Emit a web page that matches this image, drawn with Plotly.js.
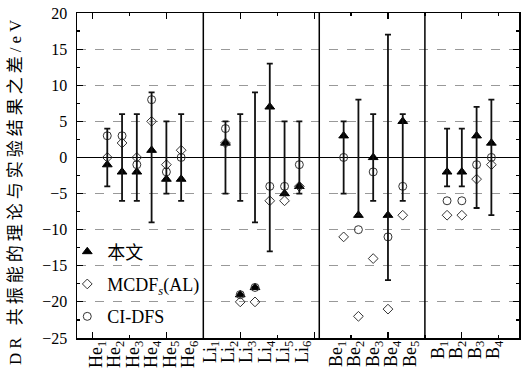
<!DOCTYPE html>
<html>
<head>
<meta charset="utf-8">
<script src="https://cdn.plot.ly/plotly-3.0.1.min.js"></script>
<style>
  html, body { margin: 0; padding: 0; background: #fff; }
  #chart { width: 521px; height: 382px; }
  .annotation-text { letter-spacing: 4px; }
</style>
</head>
<body>
<div id="chart"></div>
<script>
// ---- data ----
const groupNames = ['He', 'Li', 'Be', 'B'];
const groupSizes = [6, 6, 5, 4];
const tickLabels = [
  'He<sub>1</sub>', 'He<sub>2</sub>', 'He<sub>3</sub>', 'He<sub>4</sub>', 'He<sub>5</sub>', 'He<sub>6</sub>',
  'Li<sub>1</sub>', 'Li<sub>2</sub>', 'Li<sub>3</sub>', 'Li<sub>4</sub>', 'Li<sub>5</sub>', 'Li<sub>6</sub>',
  'Be<sub>1</sub>', 'Be<sub>2</sub>', 'Be<sub>3</sub>', 'Be<sub>4</sub>', 'Be<sub>5</sub>',
  'B<sub>1</sub>', 'B<sub>2</sub>', 'B<sub>3</sub>', 'B<sub>4</sub>'
];
// 本文 (this work)
const thisWork = [-1, -2, -2, 1, -3, -3,   2, -19, -18, 7, -5, -4,   3, -8, 0, -8, 5,   -2, -2, 3, 2];
// MCDFs(AL)
const mcdf     = [0, 2, 0, 5, -1, 1,       2, -20, -20, -6, -6, -4,  -11, -22, -14, -21, -8,  -8, -8, -3, -1];
// CI-DFS
const cidfs    = [3, 3, -1, 8, -2, 0,      4, -19, -18, -4, -4, -1,  0, -10, -2, -11, -4,  -6, -6, -1, 0];
// experimental uncertainty (error bars around 0)
const expErr   = [4, 6, 6, 9, 5, 6,        5, 6, 9, 13, 5, 5,        5, 8, 6, 17, 6,       4, 4, 7, 8];

// ---- layout helpers (positions) ----
const groupGap = 3;
const xPos = [];
const groupStart = [];
let cur = 1;
groupSizes.forEach((n, g) => {
  groupStart.push(cur);
  for (let i = 0; i < n; i++) xPos.push(cur + i);
  cur += n - 1 + groupGap;
});
// tick label placement (layout offsets per group, in axis units)
const labelStartOffset = [-0.75, -1.06, -0.5, -0.62];
const labelStep = 1.245;
const labelPos = [];
groupSizes.forEach((n, g) => {
  for (let i = 0; i < n; i++) labelPos.push(groupStart[g] + labelStartOffset[g] + i * labelStep);
});
const separators = [7.5, 15.35, 22.5];

const serif = '"Liberation Serif", "Noto Sans CJK SC", serif';
const xRange = [-1.05, 28.87];

const traces = [
  {
    x: xPos, y: xPos.map(() => 0), type: 'scatter', mode: 'markers', xaxis: 'x2',
    marker: { opacity: 0, size: 1 },
    error_y: { type: 'data', array: expErr, symmetric: true, visible: true,
               color: '#111', thickness: 1.8, width: 3 },
    showlegend: false, hoverinfo: 'skip'
  },
  {
    x: xPos, y: thisWork, type: 'scatter', mode: 'markers', name: '本文',
    legendgroup: 'a',
    marker: { symbol: 'triangle-up', size: 8.5, color: '#000', line: { color: '#000', width: 1 } }
  },
  {
    x: xPos, y: mcdf, type: 'scatter', mode: 'markers', name: 'MCDF<sub><i>s</i></sub>(AL)',
    legendgroup: 'b',
    marker: { symbol: 'diamond-open', size: 7.5, color: '#333', line: { color: '#333', width: 1 } }
  },
  {
    x: xPos, y: cidfs, type: 'scatter', mode: 'markers', name: 'CI-DFS',
    legendgroup: 'c',
    marker: { symbol: 'circle-open', size: 8, color: '#333', line: { color: '#333', width: 1 } }
  }
];

const layout = {
  width: 521, height: 382,
  margin: { l: 77, r: 2, t: 13, b: 44, pad: 0 },
  paper_bgcolor: '#fff', plot_bgcolor: '#fff',
  font: { family: serif, size: 16, color: '#000' },
  showlegend: true,
  legend: {
    x: -0.022, xanchor: 'left', y: 0.322, yanchor: 'top',
    bgcolor: 'rgba(0,0,0,0)', borderwidth: 0,
    font: { family: serif, size: 18, color: '#000' },
    tracegroupgap: 6
  },
  xaxis: {
    range: xRange, showgrid: false, zeroline: false,
    showline: true, mirror: 'ticks', linecolor: '#000', linewidth: 1.5,
    ticks: 'inside', ticklen: 6, tickwidth: 1.2, tickcolor: '#000',
    tick0: 0, dtick: 5, showticklabels: false,
    minor: { ticks: 'inside', ticklen: 3, tickwidth: 1.2, tickcolor: '#000', tick0: 0, dtick: 2.5, showgrid: false }
  },
  xaxis2: {
    overlaying: 'x', anchor: 'y', side: 'bottom', range: xRange,
    showgrid: false, zeroline: false, showline: false, ticks: '',
    tickmode: 'array', tickvals: labelPos, ticktext: tickLabels,
    tickangle: -90, tickfont: { family: serif, size: 18, color: '#000' },
    ticklabelstandoff: -2
  },
  yaxis: {
    range: [-25, 20], tick0: 0, dtick: 5,
    showline: true, mirror: 'ticks', linecolor: '#000', linewidth: 1.5,
    ticks: 'inside', ticklen: 6, tickwidth: 1.2, tickcolor: '#000',
    showgrid: true, gridcolor: '#999', gridwidth: 1, griddash: 'dash',
    zeroline: true, zerolinecolor: '#000', zerolinewidth: 1.5,
    tickfont: { family: serif, size: 16, color: '#000' },
    ticklabelstandoff: 5,
    minor: { ticks: 'inside', ticklen: 3, tickwidth: 1.2, tickcolor: '#000', dtick: 2.5, tick0: 0, showgrid: false }
  },
  shapes: separators.map(s => ({
    type: 'line', xref: 'x', yref: 'paper', x0: s, x1: s, y0: 0, y1: 1,
    line: { color: '#000', width: 1.5 }
  })),
  annotations: [{
    text: 'DR 共振能的理论与实验结果之差/eV',
    xref: 'paper', yref: 'paper', x: -0.139, y: 0.454,
    xanchor: 'center', yanchor: 'middle', textangle: -90, showarrow: false,
    font: { family: serif, size: 17, color: '#000' }
  }]
};

Plotly.newPlot('chart', traces, layout, { staticPlot: true, displayModeBar: false });
</script>
</body>
</html>
